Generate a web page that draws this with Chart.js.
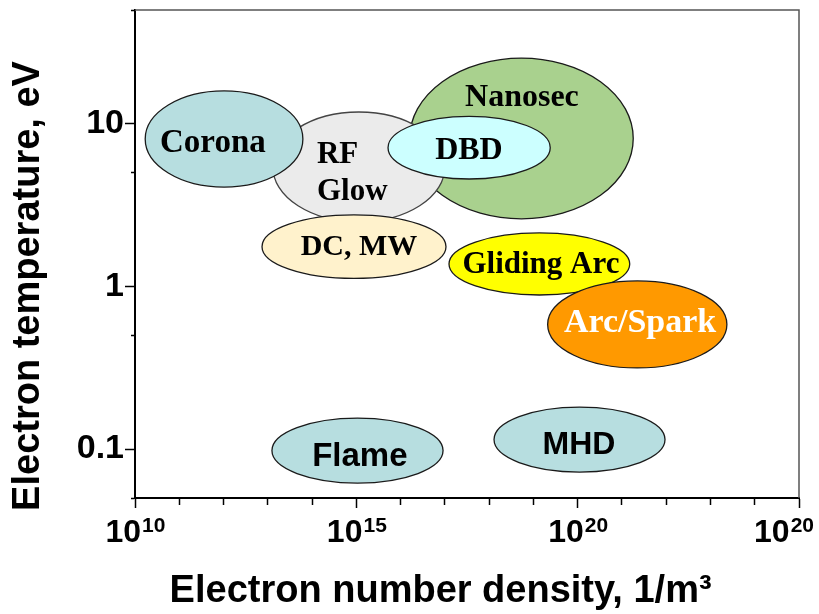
<!DOCTYPE html>
<html>
<head>
<meta charset="utf-8">
<script src="https://cdn.jsdelivr.net/npm/chart.js@4.4.1/dist/chart.umd.min.js"></script>
<style>
html, body { margin: 0; padding: 0; background: #ffffff; }
canvas { display: block; }
</style>
</head>
<body>
<canvas id="chart" width="819" height="614"></canvas>
<script>
// ---- Data ----
const regimes      = ['Nanosec', 'RF\nGlow', 'Corona', 'DBD', 'DC, MW', 'Gliding Arc', 'Arc/Spark', 'Flame', 'MHD'];
const densityMin   = [1.6e16, 1.3e13, 1.7e10, 5.2e15, 7.4e12, 1.24e17, 2.1e19, 1.24e13, 1.29e18];
const densityMax   = [1.8e21, 1.0e17, 6.2e13, 2.4e19, 1.06e17, 1.5e21, 2.35e23, 9.1e16, 9.4e21];
const tempMin      = [2.6, 2.49, 4.08, 4.57, 1.12, 0.885, 0.315, 0.0618, 0.0722];
const tempMax      = [25.3, 11.8, 15.9, 11.1, 2.75, 2.13, 1.08, 0.155, 0.181];
const labelDensity = [5.5e18, 1.29e14, 5.75e11, 3.5e17, 1.15e15, 1.48e19, 2.57e21, 1.2e15, 1.07e20];
const labelTemp    = [15.0, 5.15, 7.8, 7.1, 1.79, 1.41, 0.62, 0.092, 0.109];

const xTickValues     = [1e10, 1e11, 1e12, 1e13, 1e14, 1e15, 1e16, 1e17, 1e18, 1e19, 1e20, 1e21, 1e22, 1e23, 1e24, 1e25];
const xLabelValues    = [1e10, 1e15, 1e20, 1e25];
const xLabelBase      = '10';
const xLabelExponents = ['10', '15', '20', '20'];
const yTickValues     = [0.05, 0.1, 0.5, 1, 5, 10, 50];
const yLabelValues    = [0.1, 1, 10];
const yLabelTexts     = ['0.1', '1', '10'];

const xTitle = 'Electron number density, 1/m\u00B3';
const yTitle = 'Electron temperature, eV';

// ---- Styles ----
const SANS = '"Liberation Sans", Arial, Helvetica, sans-serif';
const SERIF = '"Liberation Serif", "Times New Roman", Times, serif';
const regimeStyle = {
  fill:   ['#a9d18e', '#ebebeb', '#b7dee0', '#ccffff', '#fff2cc', '#ffff00', '#ff9900', '#b7dee0', '#b7dee0'],
  stroke: ['#1a1a1a', '#444444', '#1a1a1a', '#1a1a1a', '#1a1a1a', '#1a1a1a', '#1a1a1a', '#1a1a1a', '#1a1a1a'],
  text:   ['#000', '#000', '#000', '#000', '#000', '#000', '#ffffff', '#000', '#000'],
  family: [SERIF, SERIF, SERIF, SERIF, SERIF, SERIF, SERIF, SANS, SANS],
  align:  ['center', 'left', 'center', 'center', 'center', 'center', 'center', 'center', 'center'],
  size:   [32, 31, 33, 32, 30, 31, 34, 33, 32],
  lineHeight: 37
};
const titleFont = { family: SANS, size: 38, weight: 'bold' };

const regimePlugin = {
  id: 'regimeEllipses',
  beforeDatasetsDraw(chart) {
    const { ctx, chartArea: a, scales: { x, y } } = chart;
    ctx.save();
    // top / right frame
    ctx.strokeStyle = '#555555';
    ctx.lineWidth = 1.5;
    ctx.beginPath();
    ctx.moveTo(a.left, a.top);
    ctx.lineTo(a.right, a.top);
    ctx.lineTo(a.right, a.bottom);
    ctx.stroke();

    regimes.forEach((name, i) => {
      const x1 = x.getPixelForValue(densityMin[i]);
      const x2 = x.getPixelForValue(densityMax[i]);
      const y1 = y.getPixelForValue(tempMax[i]);
      const y2 = y.getPixelForValue(tempMin[i]);
      ctx.beginPath();
      ctx.ellipse((x1 + x2) / 2, (y1 + y2) / 2, Math.abs(x2 - x1) / 2, Math.abs(y2 - y1) / 2, 0, 0, Math.PI * 2);
      ctx.fillStyle = regimeStyle.fill[i];
      ctx.fill();
      ctx.lineWidth = 1.3;
      ctx.strokeStyle = regimeStyle.stroke[i];
      ctx.stroke();
    });

    regimes.forEach((name, i) => {
      const lines = name.split('\n');
      const px = x.getPixelForValue(labelDensity[i]);
      const py = y.getPixelForValue(labelTemp[i]);
      const sz = regimeStyle.size[i];
      ctx.font = 'bold ' + sz + 'px ' + regimeStyle.family[i];
      ctx.fillStyle = regimeStyle.text[i];
      ctx.textAlign = regimeStyle.align[i];
      ctx.textBaseline = 'alphabetic';
      const lh = regimeStyle.lineHeight;
      const top = py - (lines.length - 1) * lh / 2;
      lines.forEach((ln, k) => {
        ctx.fillText(ln, px, top + k * lh + sz * 0.34);
      });
    });
    ctx.restore();
  },
  afterDraw(chart) {
    const { ctx, scales: { x, y } } = chart;
    ctx.save();
    ctx.fillStyle = '#000';
    ctx.textAlign = 'left';
    ctx.textBaseline = 'alphabetic';
    // x tick labels with superscript exponents
    const baseFont = 'bold 32px ' + SANS;
    const expFont = 'bold 21px ' + SANS;
    xLabelValues.forEach((v, i) => {
      const px = x.getPixelForValue(v);
      ctx.font = baseFont;
      const wb = ctx.measureText(xLabelBase).width;
      ctx.font = expFont;
      const we = ctx.measureText(xLabelExponents[i]).width;
      let left = px - (wb + we) / 2;
      left = Math.min(left, chart.width - 6 - wb - we);
      ctx.font = baseFont;
      ctx.fillText(xLabelBase, left, x.top + 44);
      ctx.font = expFont;
      ctx.fillText(xLabelExponents[i], left + wb + 1, x.top + 34);
    });
    // y axis title (rotated), placed slightly below the axis centre as in the original
    ctx.font = 'bold ' + titleFont.size + 'px ' + SANS;
    ctx.textAlign = 'center';
    ctx.textBaseline = 'middle';
    ctx.translate(y.left + 28.5, (y.top + y.bottom) / 2 + 32);
    ctx.rotate(-Math.PI / 2);
    ctx.fillText(yTitle, 0, 0);
    ctx.restore();
  }
};

const xLabelSet = new Set(xLabelValues);
const yLabelSet = new Set(yLabelValues);

new Chart(document.getElementById('chart'), {
  type: 'scatter',
  data: {
    datasets: [{
      label: 'Plasma regimes',
      data: regimes.map((r, i) => ({ x: Math.sqrt(densityMin[i] * densityMax[i]), y: Math.sqrt(tempMin[i] * tempMax[i]) })),
      pointRadius: 0,
      pointHoverRadius: 0
    }]
  },
  options: {
    responsive: false,
    animation: false,
    devicePixelRatio: 1,
    layout: { padding: { top: 10, right: 20, left: 0, bottom: 0 } },
    plugins: { legend: { display: false }, tooltip: { enabled: false } },
    events: [],
    scales: {
      x: {
        type: 'logarithmic',
        position: 'bottom',
        min: 1e10,
        max: 1e25,
        afterBuildTicks: (s) => { s.ticks = xTickValues.map(v => ({ value: v })); },
        afterFit: (s) => { s.height = 116; s.paddingLeft = 0; s.paddingRight = 0; },
        grid: {
          drawOnChartArea: false,
          drawTicks: true,
          tickLength: 10,
          tickColor: '#000',
          tickWidth: 1.5,
          tickBorderDash: (c) => (c.tick && xLabelSet.has(c.tick.value)) ? [] : [6, 100]
        },
        border: { display: true, color: '#000', width: 2 },
        ticks: { display: false },
        title: {
          display: true,
          text: xTitle + '     ',
          color: '#000',
          font: titleFont,
          padding: { top: 0, bottom: 0 }
        }
      },
      y: {
        type: 'logarithmic',
        position: 'left',
        min: 0.05,
        max: 50,
        afterBuildTicks: (s) => { s.ticks = yTickValues.map(v => ({ value: v })); },
        afterFit: (s) => { s.width = 135; s.paddingTop = 0; s.paddingBottom = 0; },
        grid: {
          drawOnChartArea: false,
          drawTicks: true,
          tickLength: 10,
          tickColor: '#000',
          tickWidth: 1.5,
          tickBorderDash: (c) => (c.tick && yLabelSet.has(c.tick.value)) ? [] : [0, 6, 10, 0]
        },
        border: { display: true, color: '#000', width: 2 },
        ticks: {
          padding: 1,
          color: '#000',
          font: { family: SANS, size: 34, weight: 'bold' },
          callback: (v) => { const k = yLabelValues.indexOf(v); return k >= 0 ? yLabelTexts[k] : ''; }
        },
        title: { display: false }
      }
    }
  },
  plugins: [regimePlugin]
});
</script>
</body>
</html>
